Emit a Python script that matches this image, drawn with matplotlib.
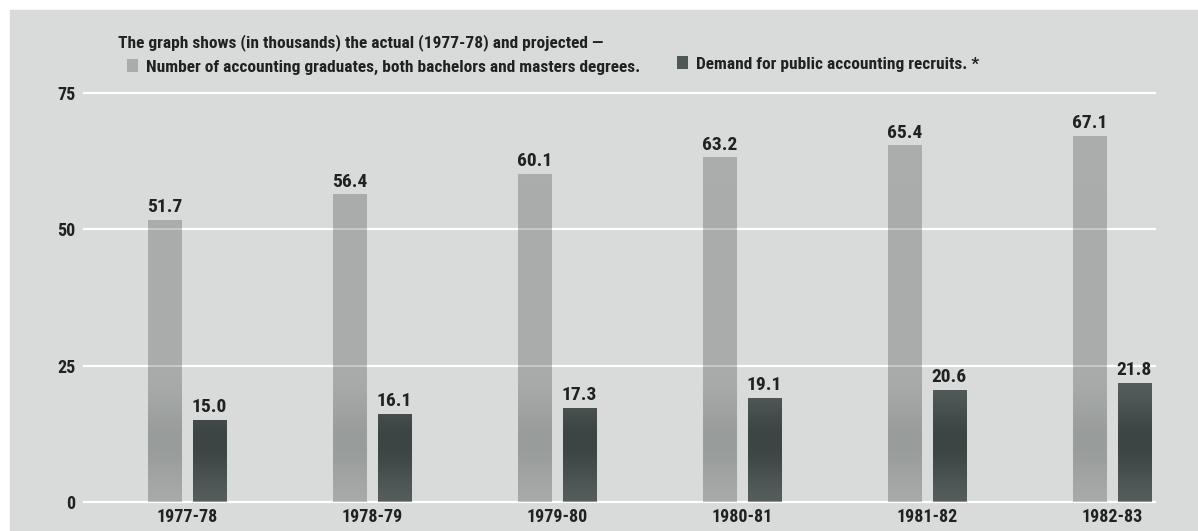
import numpy as np
import matplotlib
matplotlib.use("Agg")
import matplotlib.pyplot as plt
from matplotlib.patches import Rectangle

plt.rcParams['font.family'] = ['Roboto Condensed', 'PT Sans Narrow', 'DejaVu Sans']
plt.rcParams['font.weight'] = 'bold'

# Daten
years = ['1977-78', '1978-79', '1979-80', '1980-81', '1981-82', '1982-83']
graduates = [51.7, 56.4, 60.1, 63.2, 65.4, 67.1]
demand = [15.0, 16.1, 17.3, 19.1, 20.6, 21.8]
yticks = [0, 25, 50, 75]

txt = '#1e2322'
bg = '#d8dbd9'

fig = plt.figure(figsize=(11.98, 5.31), dpi=100)
fig.patches.append(Rectangle((10 / 1198, 0), 1, 1 - 10 / 531,
                             transform=fig.transFigure, color=bg, zorder=-10))

ax = fig.add_axes([84 / 1198, 29 / 531, 1071 / 1198, 409 / 531])
ax.set_facecolor('none')

x = np.arange(len(years))
w = 0.18
b1 = ax.bar(x - 0.12, graduates, w, color='#a9acab', zorder=2,
            label='Number of accounting graduates, both bachelors and masters degrees.')
b2 = ax.bar(x + 0.12, demand, w, color='#505856', zorder=2,
            label='Demand for public accounting recruits. *')

# Verlauf in den Balken (etwas dunkleres Band unten)
yy = np.linspace(75, 0, 300)
band = np.exp(-((yy - 11) / 8) ** 2)[:, None]


def shade(bars, top, dark):
    top = np.array(matplotlib.colors.to_rgb(top))
    dark = np.array(matplotlib.colors.to_rgb(dark))
    img = top[None, None, :] * (1 - band[:, :, None]) + dark[None, None, :] * band[:, :, None]
    for p in bars:
        im = ax.imshow(img, extent=[p.get_x(), p.get_x() + p.get_width(), 0, 75],
                       aspect='auto', zorder=3, interpolation='bilinear')
        im.set_clip_path(p)


shade(b1, '#aaadac', '#989c9a')
shade(b2, '#5a6261', '#3d4544')

ax.set_xlim(-0.557, 5.232)
ax.set_ylim(0, 75)

for p, v in zip(b1, graduates):
    ax.text(p.get_x() + p.get_width() / 2, v + 0.7, f'{v:.1f}', ha='center', va='bottom',
            fontsize=14, color=txt, zorder=5)
for p, v in zip(b2, demand):
    ax.text(p.get_x() + p.get_width() / 2, v + 0.7, f'{v:.1f}', ha='center', va='bottom',
            fontsize=14, color=txt, zorder=5)

for y in yticks:
    ax.axhline(y, color='white', lw=1.6, zorder=1, clip_on=False)
    ax.axhline(y, color='white', lw=1.4, alpha=0.35, zorder=4, clip_on=False)

ax.set_yticks(yticks)
ax.set_yticklabels([str(t) for t in yticks], fontsize=13, color=txt)
ax.set_xticks(x)
ax.set_xticklabels(years, fontsize=13, color=txt)
ax.tick_params(length=0, pad=4)
ax.tick_params(axis='y', pad=6)
for s in ax.spines.values():
    s.set_visible(False)

fig.text(118 / 1198, 1 - 43 / 531, 'The graph shows (in thousands) the actual (1977-78) and projected \u2014',
         fontsize=12.5, color=txt, va='center', ha='left')

kw = dict(loc='center left', frameon=False, fontsize=12.5, handlelength=0.62, handleheight=0.7,
          handletextpad=0.45, borderaxespad=0, borderpad=0, labelcolor=txt)
leg1 = fig.legend(handles=[b1], bbox_to_anchor=(127 / 1198, 1 - 67 / 531), **kw)
leg2 = fig.legend(handles=[b2], bbox_to_anchor=(677 / 1198, 1 - 64 / 531), **kw)

fig.savefig('out.png', dpi=100, facecolor='white')
